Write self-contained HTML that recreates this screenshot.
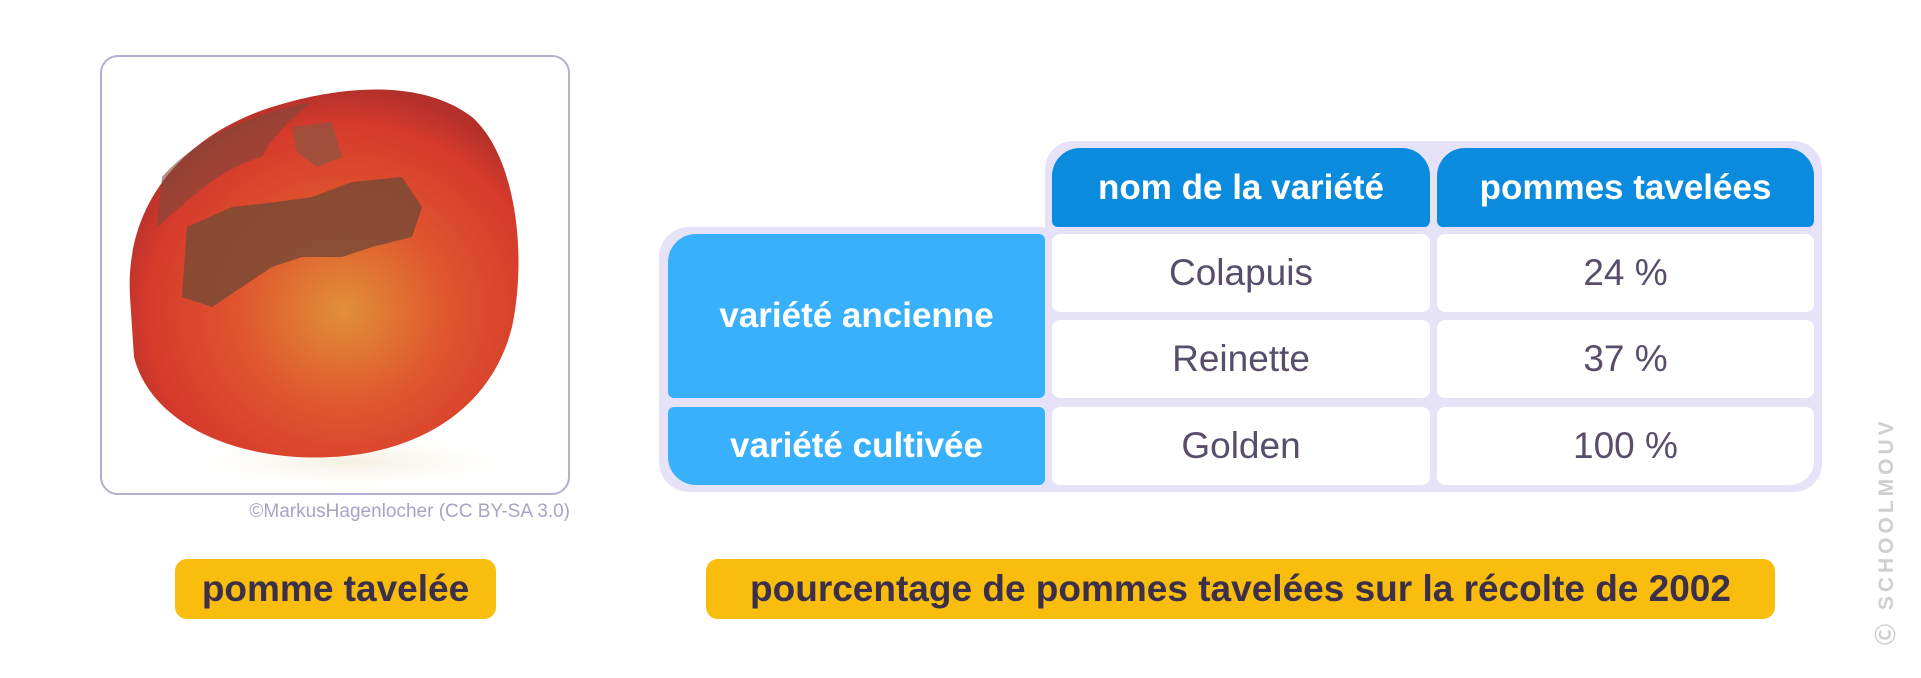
<!DOCTYPE html>
<html><head><meta charset="utf-8"><style>
*{margin:0;padding:0;box-sizing:border-box}
body{width:1921px;height:678px;background:#fff;position:relative;overflow:hidden;font-family:"Liberation Sans",sans-serif}
.a{position:absolute}
.c{position:absolute;display:flex;align-items:center;justify-content:center;text-align:center}
.h{background:#0a8bdd;color:#fff;font-weight:bold;font-size:35px;border-radius:28px 28px 6px 6px}
.l{background:#38b0fb;color:#fff;font-weight:bold;font-size:35px}
.w{background:#fff;color:#5a4d6b;font-size:37px;border-radius:8px}
.y{background:#f8bd0d;color:#3b2f4a;font-weight:bold;border-radius:12px}
</style></head><body>
<div class="a" style="left:100px;top:55px;width:470px;height:440px;border:2px solid #b5aed0;border-radius:18px;overflow:hidden">
<svg width="470" height="440" viewBox="0 0 470 440">
<defs>
<radialGradient id="g" cx="0.55" cy="0.6" r="0.6">
<stop offset="0" stop-color="#e09038"/><stop offset="0.45" stop-color="#e0552e"/><stop offset="0.85" stop-color="#d53a2c"/><stop offset="1" stop-color="#b4302a"/></radialGradient>
<radialGradient id="s" cx="0.5" cy="0.5" r="0.5"><stop offset="0" stop-color="#f3efe0"/><stop offset="1" stop-color="#fff" stop-opacity="0"/></radialGradient>
</defs>
<ellipse cx="250" cy="405" rx="190" ry="30" fill="url(#s)"/>
<path d="M28 240 C22 140 90 75 170 50 C240 28 320 22 370 60 C415 100 425 200 410 270 C390 350 320 395 230 400 C140 405 50 370 32 300 Z" fill="url(#g)"/>
<path d="M60 120 C100 75 160 55 210 45 C190 60 170 80 160 100 C120 110 90 140 55 170 Z" fill="#7a4a3a" opacity="0.6"/>
<path d="M85 170 L130 150 L175 145 L210 140 L250 125 L300 120 L320 150 L310 180 L270 190 L240 200 L200 200 L170 210 L140 230 L110 250 L80 240 Z" fill="#7a4a35" opacity="0.85"/>
<path d="M190 70 L230 65 L240 100 L215 110 L195 95 Z" fill="#8a5540" opacity="0.7"/>
</svg></div>
<div class="a" style="left:150px;top:501px;width:420px;text-align:right;font-size:19px;color:#aaa3c4">©MarkusHagenlocher (CC BY-SA 3.0)</div>
<div class="c y" style="left:175px;top:559px;width:321px;height:60px;font-size:37px">pomme tavelée</div>

<div class="a" style="left:1045px;top:141px;width:777px;height:100px;background:#e6e3f8;border-radius:28px 28px 0 0"></div>
<div class="a" style="left:659px;top:227px;width:1163px;height:265px;background:#e6e3f8;border-radius:30px 0 28px 30px"></div>
<div class="c h" style="left:1052px;top:148px;width:378px;height:79px">nom de la variété</div>
<div class="c h" style="left:1437px;top:148px;width:377px;height:79px">pommes tavelées</div>
<div class="c l" style="left:668px;top:234px;width:377px;height:164px;border-radius:28px 6px 6px 6px">variété ancienne</div>
<div class="c l" style="left:668px;top:407px;width:377px;height:78px;border-radius:6px 6px 6px 28px">variété cultivée</div>
<div class="c w" style="left:1052px;top:234px;width:378px;height:78px">Colapuis</div>
<div class="c w" style="left:1437px;top:234px;width:377px;height:78px">24 %</div>
<div class="c w" style="left:1052px;top:320px;width:378px;height:78px">Reinette</div>
<div class="c w" style="left:1437px;top:320px;width:377px;height:78px">37 %</div>
<div class="c w" style="left:1052px;top:407px;width:378px;height:78px">Golden</div>
<div class="c w" style="left:1437px;top:407px;width:377px;height:78px;border-radius:8px 8px 24px 8px">100 %</div>
<div class="c y" style="left:706px;top:559px;width:1069px;height:60px;font-size:37px">pourcentage de pommes tavelées sur la récolte de 2002</div>
<div class="a" style="left:1870px;top:645px;transform-origin:0 0;transform:rotate(-90deg);font-size:21px;font-weight:bold;color:#cfcfcf;letter-spacing:4px;white-space:nowrap">Ⓒ SCHOOLMOUV</div>
</body></html>
